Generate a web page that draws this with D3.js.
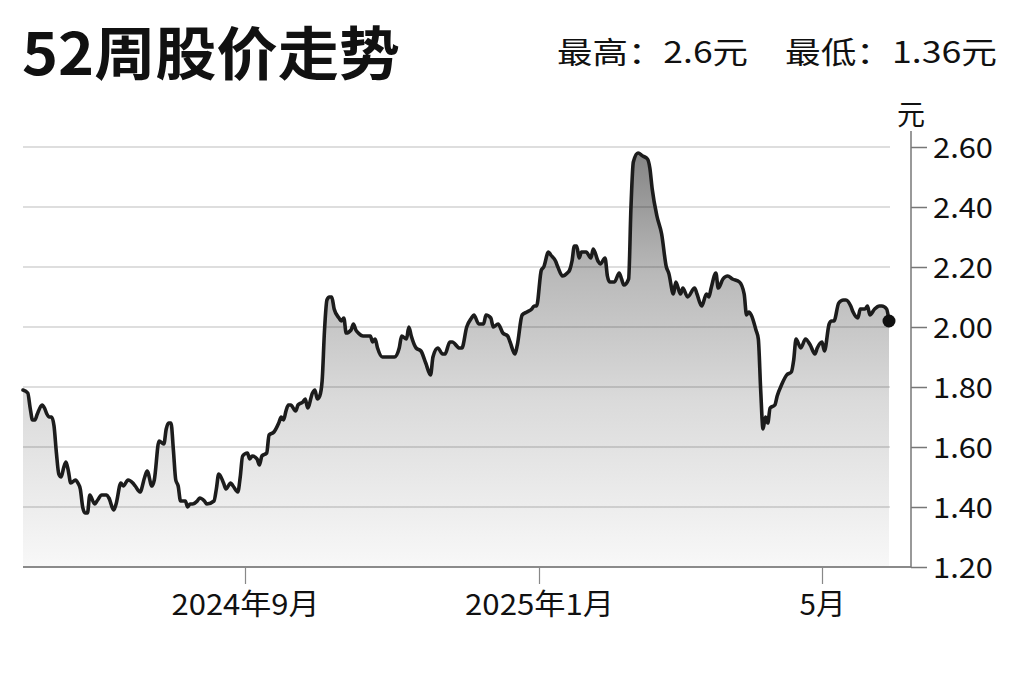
<!DOCTYPE html>
<html>
<head>
<meta charset="utf-8">
<script src="https://cdn.jsdelivr.net/npm/d3@7"></script>
<style>
  html, body { margin: 0; padding: 0; background: #fff; }
  svg { display: block; }
  text { font-family: "Noto Sans CJK SC", "Noto Sans", sans-serif; }
</style>
</head>
<body>
<svg id="chart" width="1024" height="682"></svg>
<script>
const titleText = "52周股价走势";
const highText = "最高：2.6元";
const lowText = "最低：1.36元";
const unitText = "元";

const yTicks = [1.20, 1.40, 1.60, 1.80, 2.00, 2.20, 2.40, 2.60];
const xTickDates = ["2024-09-01", "2025-01-01", "2025-05-01"];
const xTickLabels = ["2024年9月", "2025年1月", "5月"];

const dates = [
"2024-05-31","2024-06-02","2024-06-03","2024-06-04","2024-06-05","2024-06-06","2024-06-08","2024-06-09","2024-06-10","2024-06-11",
"2024-06-12","2024-06-13","2024-06-14","2024-06-15","2024-06-16","2024-06-17","2024-06-18","2024-06-19","2024-06-20","2024-06-22",
"2024-06-23","2024-06-24","2024-06-25","2024-06-26","2024-06-27","2024-06-28","2024-06-30","2024-07-01","2024-07-03","2024-07-05",
"2024-07-06","2024-07-08","2024-07-09","2024-07-11","2024-07-12","2024-07-14","2024-07-16","2024-07-17","2024-07-19","2024-07-21",
"2024-07-22","2024-07-24","2024-07-25","2024-07-27","2024-07-29","2024-07-30","2024-07-31","2024-08-01","2024-08-02","2024-08-03",
"2024-08-04","2024-08-05","2024-08-07","2024-08-08","2024-08-09","2024-08-10","2024-08-12","2024-08-13","2024-08-15","2024-08-16",
"2024-08-19","2024-08-20","2024-08-21","2024-08-23","2024-08-24","2024-08-26","2024-08-27","2024-08-29","2024-08-30","2024-08-31",
"2024-09-02","2024-09-03","2024-09-04","2024-09-06","2024-09-07","2024-09-08","2024-09-10","2024-09-11","2024-09-13","2024-09-15",
"2024-09-16","2024-09-17","2024-09-18","2024-09-19","2024-09-20","2024-09-22","2024-09-23","2024-09-25","2024-09-26","2024-09-27",
"2024-09-29","2024-09-30","2024-10-01","2024-10-02","2024-10-03","2024-10-04","2024-10-05","2024-10-06","2024-10-07","2024-10-08",
"2024-10-10","2024-10-11","2024-10-12","2024-10-13","2024-10-15","2024-10-16","2024-10-17","2024-10-18","2024-10-20","2024-10-22",
"2024-10-23","2024-10-24","2024-10-25","2024-10-26","2024-10-28","2024-10-30","2024-11-02","2024-11-04","2024-11-05","2024-11-07",
"2024-11-08","2024-11-09","2024-11-11","2024-11-13","2024-11-15","2024-11-17","2024-11-18","2024-11-20","2024-11-22","2024-11-23",
"2024-11-25","2024-11-26","2024-11-29","2024-11-30","2024-12-02","2024-12-04","2024-12-05","2024-12-07","2024-12-09","2024-12-10",
"2024-12-12","2024-12-13","2024-12-15","2024-12-17","2024-12-19","2024-12-20","2024-12-22","2024-12-23","2024-12-25","2024-12-27",
"2024-12-29","2024-12-30","2024-12-31","2025-01-02","2025-01-03","2025-01-05","2025-01-06","2025-01-08","2025-01-09","2025-01-11",
"2025-01-13","2025-01-14","2025-01-15","2025-01-16","2025-01-17","2025-01-18","2025-01-19","2025-01-21","2025-01-23","2025-01-24",
"2025-01-26","2025-01-27","2025-01-29","2025-01-30","2025-01-31","2025-02-02","2025-02-04","2025-02-05","2025-02-06","2025-02-08",
"2025-02-09","2025-02-10","2025-02-12","2025-02-14","2025-02-16","2025-02-17","2025-02-18","2025-02-20","2025-02-22","2025-02-24",
"2025-02-25","2025-02-27","2025-02-28","2025-03-02","2025-03-03","2025-03-05","2025-03-08","2025-03-09","2025-03-11","2025-03-13",
"2025-03-14","2025-03-15","2025-03-17","2025-03-18","2025-03-20","2025-03-22","2025-03-24","2025-03-27","2025-03-29","2025-03-30",
"2025-03-31","2025-04-01","2025-04-03","2025-04-04","2025-04-05","2025-04-06","2025-04-07","2025-04-08","2025-04-09","2025-04-11",
"2025-04-12","2025-04-14","2025-04-16","2025-04-18","2025-04-19","2025-04-20","2025-04-22","2025-04-24","2025-04-26","2025-04-28",
"2025-04-29","2025-05-01","2025-05-02","2025-05-04","2025-05-05","2025-05-06","2025-05-08","2025-05-10","2025-05-11","2025-05-13",
"2025-05-14","2025-05-16","2025-05-17","2025-05-19","2025-05-20","2025-05-21","2025-05-23","2025-05-25","2025-05-26","2025-05-28",
"2025-05-29"
];

const prices = [
1.79,1.78,1.73,1.69,1.69,1.71,1.74,1.73,1.71,1.70,
1.70,1.67,1.58,1.51,1.50,1.53,1.55,1.52,1.48,1.49,
1.48,1.46,1.40,1.38,1.38,1.44,1.41,1.42,1.44,1.44,
1.43,1.39,1.41,1.48,1.47,1.49,1.48,1.47,1.45,1.50,
1.52,1.47,1.49,1.62,1.61,1.66,1.68,1.68,1.59,1.49,
1.47,1.42,1.42,1.40,1.41,1.41,1.42,1.43,1.42,1.41,
1.42,1.46,1.51,1.48,1.46,1.48,1.47,1.45,1.50,1.57,
1.58,1.56,1.57,1.56,1.54,1.57,1.58,1.64,1.65,1.68,
1.70,1.69,1.72,1.74,1.74,1.72,1.74,1.75,1.76,1.73,
1.78,1.79,1.76,1.77,1.82,1.99,2.09,2.10,2.10,2.06,
2.03,2.02,2.03,1.98,1.99,2.01,1.99,1.98,1.97,1.97,
1.97,1.95,1.96,1.93,1.90,1.90,1.90,1.93,1.97,1.96,
2.00,1.97,1.93,1.92,1.88,1.84,1.90,1.93,1.91,1.91,
1.95,1.95,1.93,1.93,2.00,2.03,2.04,2.01,2.01,2.04,
2.03,2.00,2.01,1.98,1.97,1.95,1.91,1.94,2.04,2.05,
2.06,2.07,2.07,2.19,2.20,2.25,2.24,2.22,2.20,2.17,
2.18,2.19,2.22,2.27,2.27,2.23,2.25,2.25,2.23,2.26,
2.22,2.21,2.23,2.17,2.15,2.15,2.18,2.16,2.14,2.16,
2.40,2.55,2.58,2.57,2.56,2.53,2.46,2.37,2.31,2.20,
2.18,2.11,2.15,2.11,2.13,2.10,2.13,2.11,2.07,2.11,
2.10,2.13,2.18,2.13,2.16,2.17,2.16,2.15,2.11,2.04,
2.05,2.04,1.99,1.96,1.79,1.66,1.70,1.68,1.73,1.74,
1.77,1.81,1.84,1.85,1.89,1.96,1.93,1.96,1.94,1.91,
1.93,1.95,1.92,2.01,2.02,2.02,2.08,2.09,2.09,2.07,
2.05,2.03,2.06,2.06,2.07,2.04,2.06,2.07,2.07,2.06,
2.02
];

const parse = d3.timeParse("%Y-%m-%d");
const data = dates.map((d, i) => ({ date: parse(d), value: prices[i] }));

const svg = d3.select("#chart");

// scales (piecewise time scale so month ticks land where the reference has them)
const x = d3.scaleTime()
  .domain([parse("2024-05-31"), parse("2024-09-01"), parse("2025-01-01"), parse("2025-05-01"), parse("2025-05-29")])
  .range([23, 245, 539, 822, 889]);
const y = d3.scaleLinear().domain([1.20, 2.60]).range([567, 147]);

const plotLeft = 23, plotRight = 890, axisX = 911;

// gradient
const defs = svg.append("defs");
const grad = defs.append("linearGradient")
  .attr("id", "areaGrad")
  .attr("gradientUnits", "userSpaceOnUse")
  .attr("x1", 0).attr("x2", 0)
  .attr("y1", y(2.60)).attr("y2", y(1.20));
grad.append("stop").attr("offset", "0").attr("stop-color", "#828282");
grad.append("stop").attr("offset", "0.3").attr("stop-color", "#b9b9b9");
grad.append("stop").attr("offset", "0.6").attr("stop-color", "#dadada");
grad.append("stop").attr("offset", "1").attr("stop-color", "#f8f8f8");

// area
const area = d3.area()
  .x(d => x(d.date))
  .y0(y(1.20))
  .y1(d => y(d.value))
  .curve(d3.curveMonotoneX);
svg.append("path").datum(data)
  .attr("d", area)
  .attr("fill", "url(#areaGrad)");

// gridlines
svg.append("g").selectAll("line")
  .data(yTicks.filter(t => t > 1.2))
  .join("line")
  .attr("x1", plotLeft).attr("x2", plotRight)
  .attr("y1", d => y(d)).attr("y2", d => y(d))
  .attr("stroke", "#000").attr("stroke-opacity", 0.13)
  .attr("stroke-width", 2);

// x baseline
svg.append("line")
  .attr("x1", plotLeft).attr("x2", axisX)
  .attr("y1", y(1.20)).attr("y2", y(1.20))
  .attr("stroke", "#8a8a8a").attr("stroke-width", 2);

// x axis
const xAxis = d3.axisBottom(x)
  .tickValues(xTickDates.map(parse))
  .tickSize(17)
  .tickPadding(0)
  .tickFormat((d, i) => xTickLabels[i]);
const gx = svg.append("g").attr("transform", `translate(0,${y(1.20)})`).call(xAxis);
gx.select(".domain").remove();
gx.selectAll(".tick line").attr("stroke", "#888").attr("stroke-width", 1.2);
gx.selectAll(".tick text")
  .attr("y", 48)
  .attr("dy", 0)
  .attr("fill", "#111")
  .attr("font-size", 29)
  .attr("font-family", "'Noto Sans CJK SC', sans-serif")
  .attr("textLength", (d, i) => [148, 149, 46][i])
  .attr("lengthAdjust", "spacingAndGlyphs");

// y axis
const yAxis = d3.axisRight(y)
  .tickValues(yTicks)
  .tickSize(16)
  .tickPadding(6)
  .tickFormat(d3.format(".2f"));
const gy = svg.append("g").attr("transform", `translate(${axisX},0)`).call(yAxis);
gy.select(".domain").remove();
gy.selectAll(".tick line").attr("stroke", "#777").attr("stroke-width", 1.5);
gy.selectAll(".tick text")
  .attr("x", 22)
  .attr("dy", "0.37em")
  .attr("fill", "#111")
  .attr("font-size", 28.5)
  .attr("font-family", "'Noto Sans CJK SC', sans-serif")
  .attr("textLength", 60)
  .attr("lengthAdjust", "spacingAndGlyphs");
svg.append("line")
  .attr("x1", axisX).attr("x2", axisX)
  .attr("y1", 131).attr("y2", y(1.20))
  .attr("stroke", "#777").attr("stroke-width", 1.5);

// unit label
svg.append("text")
  .attr("x", axisX).attr("y", 125)
  .attr("text-anchor", "middle")
  .attr("font-size", 28)
  .attr("fill", "#111")
  .text(unitText);

// line
const line = d3.line()
  .x(d => x(d.date))
  .y(d => y(d.value))
  .curve(d3.curveMonotoneX);
svg.append("path").datum(data)
  .attr("d", line)
  .attr("fill", "none")
  .attr("stroke", "#1c1c1c")
  .attr("stroke-width", 3.6)
  .attr("stroke-linejoin", "round")
  .attr("stroke-linecap", "round");

// end dot
const last = data[data.length - 1];
svg.append("circle")
  .attr("cx", x(last.date)).attr("cy", y(last.value))
  .attr("r", 6.5).attr("fill", "#111");

// title
svg.append("text")
  .attr("x", 22).attr("y", 75)
  .attr("font-size", 58).attr("font-weight", 700)
  .attr("fill", "#111")
  .attr("textLength", 378).attr("lengthAdjust", "spacingAndGlyphs")
  .text(titleText);

// high / low
svg.append("text")
  .attr("x", 557).attr("y", 63)
  .attr("font-size", 30).attr("fill", "#111")
  .attr("textLength", 191).attr("lengthAdjust", "spacingAndGlyphs")
  .text(highText);
svg.append("text")
  .attr("x", 785).attr("y", 63)
  .attr("font-size", 30).attr("fill", "#111")
  .attr("textLength", 212).attr("lengthAdjust", "spacingAndGlyphs")
  .text(lowText);
</script>
</body>
</html>
